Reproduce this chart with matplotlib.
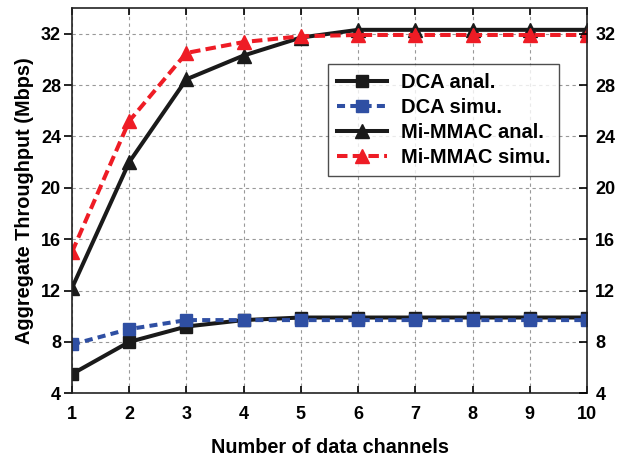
import matplotlib
matplotlib.use("Agg")
import matplotlib.pyplot as plt

channels = [1, 2, 3, 4, 5, 6, 7, 8, 9, 10]
dca_anal = [5.5, 8.0, 9.2, 9.7, 9.9, 9.9, 9.9, 9.9, 9.9, 9.9]
dca_simu = [7.8, 9.0, 9.7, 9.7, 9.7, 9.7, 9.7, 9.7, 9.7, 9.7]
mmac_anal = [12.2, 22.0, 28.45, 30.3, 31.7, 32.3, 32.3, 32.3, 32.3, 32.3]
mmac_simu = [15.0, 25.2, 30.5, 31.35, 31.8, 31.9, 31.9, 31.9, 31.9, 31.9]
yticks = [4, 8, 12, 16, 20, 24, 28, 32]

plt.rcParams['font.family'] = ['Liberation Sans', 'DejaVu Sans']
plt.rcParams['font.weight'] = 'bold'

fig = plt.figure(figsize=(6.41, 4.58), dpi=100)
ax = fig.add_axes([72/641, 1-393.3/458, (587-72)/641, (393.3-8)/458])

black = '#1a1a1a'
blue = '#2f4fa3'
red = '#ee1c25'
lw = 2.9

ax.plot(channels, dca_anal, '-', color=black, lw=lw, marker='s', ms=8.5,
        label='DCA anal.')
ax.plot(channels, dca_simu, '--', color=blue, lw=lw, marker='s', ms=8.5,
        dashes=(2.0, 1.3), label='DCA simu.')
ax.plot(channels, mmac_anal, '-', color=black, lw=lw, marker='^', ms=10,
        label='Mi-MMAC anal.')
ax.plot(channels, mmac_simu, '--', color=red, lw=lw, marker='^', ms=10,
        dashes=(2.6, 1.3), label='Mi-MMAC simu.')

ax.set_xlim(1, 10)
ax.set_ylim(4, 34)
ax.set_xticks(channels)
ax.set_yticks(yticks)
ax.grid(True, color='#999999', linestyle=(0, (3, 3)), linewidth=0.8)
ax.set_axisbelow(True)

for s in ax.spines.values():
    s.set_linewidth(1.2)
    s.set_color('#222222')

ax.tick_params(axis='y', direction='out', length=6, width=1.2, labelsize=13,
               right=False, pad=2)
ax.tick_params(axis='x', direction='in', length=5, width=1.2, labelsize=13,
               top=True, pad=9)

ax2 = ax.twinx()
ax2.set_ylim(4, 34)
ax2.set_yticks(yticks)
ax2.tick_params(axis='y', direction='in', length=6, width=1.2, labelsize=13, pad=6)
for s in ax2.spines.values():
    s.set_visible(False)
for lab in ax.get_xticklabels() + ax.get_yticklabels() + ax2.get_yticklabels():
    lab.set_fontweight('bold')

ax.set_xlabel('Number of data channels', fontsize=14.3, fontweight='bold', labelpad=11)
ax.set_ylabel('Aggregate Throughput (Mbps)', fontsize=14.3, fontweight='bold', labelpad=5)

leg = ax.legend(loc='upper left', bbox_to_anchor=((328-72)/515, 1-(64-8)/385.3),
                prop={'weight': 'bold', 'size': 14.5},
                frameon=True, fancybox=False, edgecolor='#222222',
                handlelength=2.5, borderpad=0.45, labelspacing=0.3,
                handletextpad=0.65, borderaxespad=0)
leg.get_frame().set_linewidth(1.0)
leg.set_zorder(5)

fig.savefig('out.png', dpi=100)
